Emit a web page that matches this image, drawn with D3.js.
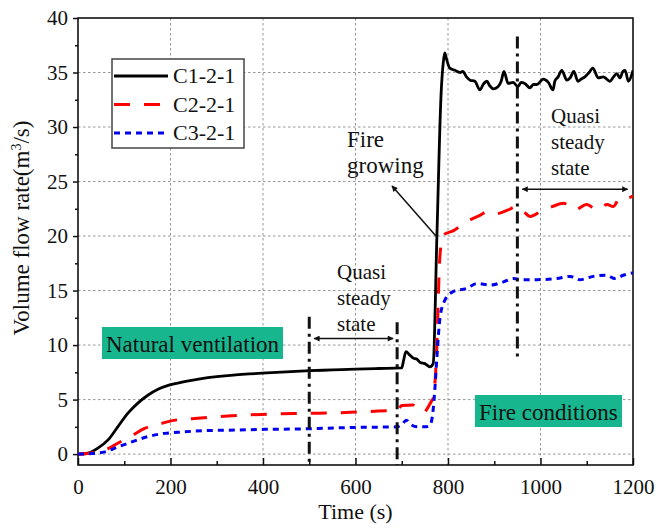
<!DOCTYPE html>
<html lang="en">
<head>
<meta charset="UTF-8">
<title>Volume flow rate</title>
<script src="https://d3js.org/d3.v7.min.js"></script>
<style>
    body { margin: 0; background: #fff; }
    text { font-family: "Liberation Serif", "Times New Roman", serif; fill: #111; }
</style>
</head>
<body>
<svg id="chart"></svg>
<script>
    // series: time (s) and volume flow rate (m3/s)
    var seriesNames = ["C1-2-1", "C2-2-1", "C3-2-1"];

    var time1 = [0, 22, 43, 65, 86, 108, 130, 151, 173, 195, 230, 264, 300, 336, 370, 408, 450, 502, 550, 600, 650, 700,
        704, 709, 717, 725, 733, 740, 750, 761, 768, 776, 785, 790, 793, 797, 804, 815, 826, 832, 840, 848, 858, 869,
        876, 884, 890, 898, 908, 915, 921, 930, 941, 951, 958, 966, 977, 985, 992, 1006, 1017, 1027, 1031, 1038, 1046,
        1057, 1064, 1072, 1081, 1088, 1096, 1105, 1113, 1125, 1136, 1143, 1150, 1158, 1165, 1172, 1178, 1183, 1190, 1198, 1200];
    var flow1 = [0, 0.1, 0.55, 1.3, 2.5, 3.75, 4.7, 5.4, 5.95, 6.3, 6.65, 6.9, 7.1, 7.25, 7.35, 7.45, 7.55, 7.65, 7.72, 7.8, 7.85, 7.9,
        8.6, 9.4, 9.1, 8.8, 8.7, 8.4, 8.3, 8.0, 8.3, 20, 33, 36, 36.8, 36.2, 35.4, 35.2, 35.0, 35.1, 34.6, 34.3, 34.2, 33.4,
        33.9, 34.2, 33.8, 33.5, 33.7, 34.2, 35.1, 34.0, 34.1, 33.7, 34.1, 34.0, 33.6, 33.9, 33.9, 34.4, 34.1, 33.4, 34.2, 34.6, 35.2,
        34.3, 34.5, 35.1, 34.2, 34.4, 34.6, 35.0, 35.4, 34.5, 34.6, 34.4, 34.2, 34.6, 34.9, 34.5, 35.1, 35.2, 34.2, 34.9, 35.2];

    var time2 = [0, 29, 65, 86, 119, 144, 180, 201, 252, 324, 396, 468, 519, 600, 650, 690, 700, 724, 735, 746, 765, 768,
        775, 782, 786, 790, 812, 840, 869, 884, 898, 912, 930, 949, 965, 977, 1006, 1025, 1050, 1074, 1100, 1122, 1144,
        1157, 1172, 1189, 1200];
    var flow2 = [0, 0.1, 0.5, 1.0, 1.75, 2.35, 2.8, 3.05, 3.27, 3.5, 3.64, 3.73, 3.75, 3.85, 3.95, 4.0, 4.45, 4.5, 4.1, 3.8, 4.9, 5.1,
        8.9, 17.8, 19.5, 20.1, 20.5, 21.3, 21.9, 22.2, 22.0, 22.1, 22.4, 22.7, 22.2, 21.8, 22.4, 22.7, 23.0, 22.4, 22.9, 22.4, 22.9,
        22.7, 23.5, 23.5, 23.7];

    var time3 = [0, 30, 58, 86, 115, 151, 187, 216, 274, 339, 404, 468, 519, 600, 690, 700, 710, 720, 735, 750, 760, 766,
        772, 776, 783, 793, 811, 840, 863, 891, 920, 941, 963, 992, 1035, 1064, 1085, 1114, 1143, 1161, 1179, 1198, 1200];
    var flow3 = [0, 0.05, 0.2, 0.65, 1.1, 1.6, 1.9, 2.0, 2.15, 2.2, 2.27, 2.3, 2.35, 2.45, 2.5, 2.7, 3.1, 2.7, 2.5, 2.5, 2.6, 3.4,
        6.2, 8.9, 12.6, 14.1, 14.9, 15.2, 15.65, 15.5, 15.8, 16.1, 16.0, 16.0, 16.1, 16.3, 16.0, 16.3, 16.4, 16.1, 16.4, 16.6, 16.6];

    var xTicks = [0, 200, 400, 600, 800, 1000, 1200];
    var yTicks = [0, 5, 10, 15, 20, 25, 30, 35, 40];

    // annotation anchors, in data units
    var markerTimes = [500, 690, 950];
    var markerSpans = [[-1, 12.6], [-1, 12.1], [8.9, 38.3]];
    var steadySpans = [[500, 690, 10.6], [950, 1197, 24.3]];

    var serif = "'Liberation Serif', 'Times New Roman', serif";

    var margin = {top: 18, right: 24, bottom: 63, left: 78};
    var width = 657 - margin.left - margin.right;
    var height = 528 - margin.top - margin.bottom;

    var svg = d3.select("#chart")
        .attr("width", 657)
        .attr("height", 528)
        .append("g")
        .attr("transform", "translate(" + margin.left + "," + margin.top + ")");

    var x = d3.scaleLinear().domain([0, 1200]).range([0, width]);
    var y = d3.scaleLinear().domain([-1, 40]).range([height, 0]);

    var defs = svg.append("defs");
    defs.append("clipPath").attr("id", "plotClip")
        .append("rect").attr("width", width).attr("height", height);
    defs.append("marker")
        .attr("id", "head")
        .attr("viewBox", "0 0 10 10")
        .attr("refX", 9).attr("refY", 5)
        .attr("markerWidth", 10).attr("markerHeight", 6)
        .attr("markerUnits", "userSpaceOnUse")
        .attr("orient", "auto-start-reverse")
        .append("path").attr("d", "M0,0 L10,5 L0,10 Z").attr("fill", "#111");

    // grid
    svg.append("g").selectAll("line")
        .data(xTicks.slice(1, -1))
        .enter().append("line")
        .attr("x1", function (d) { return x(d); })
        .attr("x2", function (d) { return x(d); })
        .attr("y1", 0).attr("y2", height)
        .attr("stroke", "#8a8a8a").attr("stroke-width", 0.9).attr("stroke-dasharray", "2.5,2.5");
    svg.append("g").selectAll("line")
        .data(yTicks.slice(0, -1))
        .enter().append("line")
        .attr("y1", function (d) { return y(d); })
        .attr("y2", function (d) { return y(d); })
        .attr("x1", 0).attr("x2", width)
        .attr("stroke", "#8a8a8a").attr("stroke-width", 0.9).attr("stroke-dasharray", "2.5,2.5");

    // axes: x ticks point inward, y ticks outward
    var xMinor = d3.axisBottom(x).tickValues(d3.range(100, 1200, 200)).tickSize(-4).tickFormat("");
    var xMajor = d3.axisBottom(x).tickValues(xTicks).tickSize(-7).tickPadding(14).tickFormat(d3.format("d"));
    var yMinor = d3.axisLeft(y).tickValues(d3.range(2.5, 40, 5)).tickSize(3).tickFormat("");
    var yMajor = d3.axisLeft(y).tickValues(yTicks).tickSize(5).tickPadding(5).tickFormat(d3.format("d"));

    svg.append("g").attr("transform", "translate(0," + height + ")").call(xMinor);
    var gx = svg.append("g").attr("transform", "translate(0," + height + ")").call(xMajor);
    svg.append("g").call(yMinor);
    var gy = svg.append("g").call(yMajor);

    svg.selectAll(".domain").remove();
    svg.selectAll(".tick line").attr("stroke", "#111").attr("stroke-width", 1.5);
    [gx, gy].forEach(function (g) {
        g.attr("font-family", serif).attr("font-size", 21);
        g.selectAll("text")
            .attr("fill", "#111")
            .style("font-family", serif)
            .style("font-size", "21px");
    });

    // frame
    svg.append("rect")
        .attr("width", width).attr("height", height)
        .attr("fill", "none").attr("stroke", "#111").attr("stroke-width", 1.6);

    // axis titles
    svg.append("text")
        .attr("x", width / 2).attr("y", height + 54)
        .attr("text-anchor", "middle")
        .style("font-size", "22px")
        .text("Time (s)");

    var yTitle = svg.append("text")
        .attr("transform", "translate(" + (29 - margin.left) + "," + (228 - margin.top) + ") rotate(-90)")
        .attr("text-anchor", "middle")
        .style("font-size", "23px");
    yTitle.append("tspan").text("Volume flow rate(m");
    yTitle.append("tspan").attr("dy", -8).style("font-size", "14px").text("3");
    yTitle.append("tspan").attr("dy", 8).text("/s)");

    // curves
    function pairs(ts, vs) {
        return ts.map(function (t, i) { return [t, vs[i]]; });
    }
    var line = d3.line()
        .x(function (d) { return x(d[0]); })
        .y(function (d) { return y(d[1]); })
        .curve(d3.curveMonotoneX);

    var styles = [
        {color: "#000", dash: null, w: 2.8},
        {color: "#ff0000", dash: "16,14", w: 3},
        {color: "#0000ee", dash: "6,5", w: 3}
    ];
    var allSeries = [pairs(time1, flow1), pairs(time2, flow2), pairs(time3, flow3)];

    var plot = svg.append("g").attr("clip-path", "url(#plotClip)");
    allSeries.forEach(function (s, i) {
        plot.append("path")
            .datum(s)
            .attr("d", line)
            .attr("fill", "none")
            .attr("stroke", styles[i].color)
            .attr("stroke-width", styles[i].w)
            .attr("stroke-dasharray", styles[i].dash)
            .attr("stroke-linejoin", "round");
    });

    // dash-dot markers for the steady periods
    markerTimes.forEach(function (t, i) {
        svg.append("line")
            .attr("x1", x(t)).attr("x2", x(t))
            .attr("y1", y(markerSpans[i][1])).attr("y2", y(markerSpans[i][0]))
            .attr("stroke", "#111").attr("stroke-width", 3)
            .attr("stroke-dasharray", "12,5,3,5");
    });

    steadySpans.forEach(function (s) {
        svg.append("line")
            .attr("x1", x(s[0]) + 5).attr("x2", x(s[1]) - 4)
            .attr("y1", y(s[2])).attr("y2", y(s[2]))
            .attr("stroke", "#111").attr("stroke-width", 1.5)
            .attr("marker-start", "url(#head)")
            .attr("marker-end", "url(#head)");
    });

    function multiline(xp, yp, lines, size) {
        var t = svg.append("text").attr("x", xp).attr("y", yp).style("font-size", size);
        lines.forEach(function (s, i) {
            t.append("tspan").attr("x", xp).attr("dy", i === 0 ? 0 : 26).text(s);
        });
    }
    multiline(337 - margin.left, 279 - margin.top, ["Quasi", "steady", "state"], "21px");
    multiline(551 - margin.left, 123 - margin.top, ["Quasi", "steady", "state"], "21px");
    multiline(347 - margin.left, 147 - margin.top, ["Fire", "growing"], "23px");

    // fire growing pointer
    svg.append("line")
        .attr("x1", x(774)).attr("y1", y(20))
        .attr("x2", x(679)).attr("y2", y(24.6))
        .attr("stroke", "#111").attr("stroke-width", 1.5)
        .attr("marker-end", "url(#head)");

    // teal labels
    function tag(x0, y0, w, h, label) {
        svg.append("rect")
            .attr("x", x0 - margin.left).attr("y", y0 - margin.top)
            .attr("width", w).attr("height", h)
            .attr("fill", "#17b68e");
        svg.append("text")
            .attr("x", x0 - margin.left + 4).attr("y", y0 - margin.top + h - 7)
            .style("font-size", "23px")
            .text(label);
    }
    tag(102, 327, 181, 32, "Natural ventilation");
    tag(475, 395, 147, 32, "Fire conditions");

    // legend
    var legend = svg.append("g").attr("transform", "translate(" + (112 - margin.left) + "," + (59 - margin.top) + ")");
    legend.append("rect")
        .attr("width", 132).attr("height", 89)
        .attr("fill", "#fff").attr("stroke", "#444").attr("stroke-width", 1.5);
    seriesNames.forEach(function (name, i) {
        var ly = 17 + i * 28.5;
        legend.append("line")
            .attr("x1", 2).attr("x2", 56)
            .attr("y1", ly).attr("y2", ly)
            .attr("stroke", styles[i].color)
            .attr("stroke-width", 3)
            .attr("stroke-dasharray", styles[i].dash);
        legend.append("text")
            .attr("x", 61).attr("y", ly + 7)
            .style("font-size", "22px")
            .text(name);
    });
</script>
</body>
</html>
